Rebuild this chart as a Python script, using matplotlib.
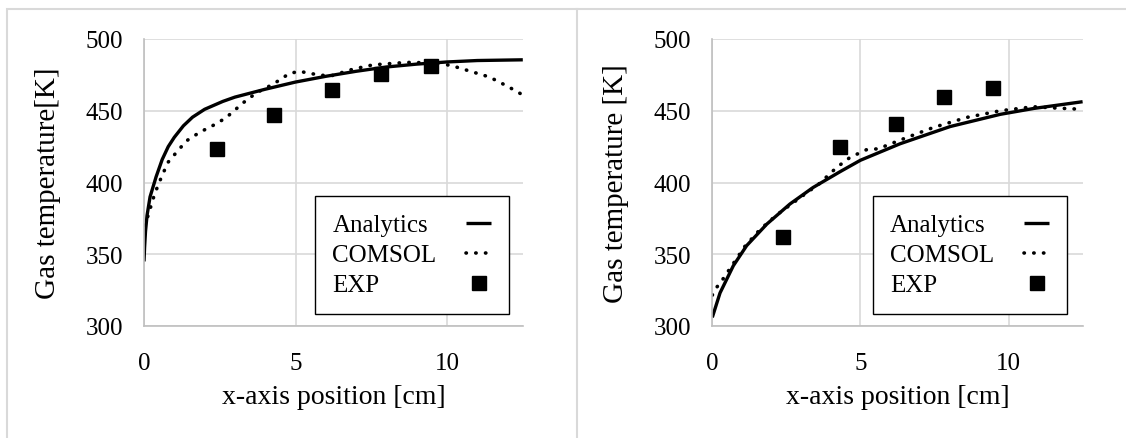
import matplotlib.pyplot as plt
import matplotlib.patches as patches
import numpy as np

plt.rcParams['font.family'] = ['Liberation Serif', 'DejaVu Serif']

# left panel
x_an_l = [0, 0.02, 0.05, 0.1, 0.2, 0.4, 0.6, 0.8, 1.0, 1.3, 1.6, 2.0, 2.6, 3.0, 4.0, 5.0, 6.0, 7.0, 8.0, 9.0, 10.0, 11.0, 12.5]
t_an_l = [345, 355, 366, 377, 390, 404, 416, 425, 431.5, 439.5, 445.5, 451, 456.5, 459.5, 465, 470, 474, 477.5, 480.5, 482.5, 484, 485, 485.5]
x_cs_l = [0, 0.12, 0.35, 0.57, 0.79, 1.07, 1.4, 1.84, 2.3, 2.7, 3.27, 3.71, 4.26, 4.8, 5.14, 5.47, 6.13, 6.35, 6.9, 7.56, 8.66, 9.76, 10.3, 11.4, 12.0, 12.5]
t_cs_l = [370, 376, 392, 403.5, 414, 421, 429, 435, 440, 445, 455.5, 462.5, 468.5, 476, 477.5, 476, 474, 475.5, 479, 482, 483.7, 483.3, 480.5, 473.5, 467, 461]
x_exp_l = [2.4, 4.28, 6.19, 7.83, 9.46]
t_exp_l = [423.3, 447, 464.7, 475.6, 481.4]

# right panel
x_an_r = [0, 0.26, 0.71, 1.16, 1.84, 2.62, 3.4, 4.31, 5.0, 6.34, 8.03, 9.72, 10.85, 12.5]
t_an_r = [306, 323, 342, 356, 371, 385, 396.5, 407.5, 415.5, 427, 439, 447.5, 451.6, 456.3]
x_cs_r = [0, 0.15, 0.32, 0.66, 1.1, 1.6, 2.18, 3.0, 3.6, 4.2, 4.65, 5.2, 5.6, 6.57, 7.47, 8.6, 9.72, 10.84, 11.5, 12.5]
t_cs_r = [321.5, 327, 331.5, 342, 355.5, 367, 377.5, 390, 399, 410.5, 417.5, 422.8, 423.5, 431.4, 438.4, 445.4, 450, 452.8, 452, 451]
x_exp_r = [2.4, 4.31, 6.2, 7.83, 9.47]
t_exp_r = [361.7, 424.9, 440.7, 459.5, 465.8]

xticks = [0, 5, 10]
yticks = [300, 350, 400, 450, 500]
fs = 18      # ticks + legend
fs_lab = 20  # axis titles

fig = plt.figure(figsize=(11.26, 4.39), dpi=100)

# light grey frame lines around the two panels
W, H = 1126, 439
fc = '#d9d9d9'
fig.add_artist(patches.Rectangle((7 / W, -0.1), (W + 10) / W, (H - 10) / H + 0.1, transform=fig.transFigure,
                                 fill=False, edgecolor=fc, lw=1.5))
fig.add_artist(plt.Line2D([576.5 / W, 576.5 / W], [0, (H - 10) / H], transform=fig.transFigure, color=fc, lw=1.5))


def panel(ax, xa, ta, xc, tc, xe, te, ylab, leg_l, ylab_x):
    ax.plot(xa, ta, color='black', lw=2.4, label='Analytics', solid_capstyle='butt')
    ax.plot(xc, tc, color='black', lw=2.6, linestyle=(0, (0.1, 2.6)), dash_capstyle='round', label='COMSOL')
    ax.plot(xe, te, linestyle='none', marker='s', ms=10, color='black', label='EXP')
    ax.set_xlim(0, 12.5)
    ax.set_ylim(300, 500)
    ax.set_xticks(xticks)
    ax.set_yticks(yticks)
    ax.grid(True, color='#d9d9d9', lw=1.2)
    ax.set_axisbelow(True)
    for s in ['top', 'right']:
        ax.spines[s].set_visible(False)
    for s in ['left', 'bottom']:
        ax.spines[s].set_color('#bfbfbf')
        ax.spines[s].set_linewidth(1.2)
    ax.tick_params(length=0, labelsize=fs, pad=15)
    ax.tick_params(axis='x', pad=19)
    ax.set_xlabel('x-axis position [cm]', fontsize=fs_lab, labelpad=7)
    ax.set_ylabel(ylab, fontsize=21)
    ax.yaxis.set_label_coords(ylab_x, 0.5)
    leg = ax.legend(loc='lower left', bbox_to_anchor=(leg_l, 0.042), borderaxespad=0, markerfirst=False,
                    fontsize=fs, fancybox=False, framealpha=1, edgecolor='black', handlelength=1.0,
                    handletextpad=1.2, labelspacing=0.3, borderpad=0.7)
    leg.get_frame().set_linewidth(1.0)
    return leg


def left_align(leg):
    # text left, handle right: widen the gap of shorter labels
    r = fig.canvas.get_renderer()
    texts = leg.get_texts()
    w = [t.get_window_extent(r).width for t in texts]
    rows = leg._legend_handle_box.get_children()[0].get_children()
    for row, wi in zip(rows, w):
        row.sep = row.sep + (max(w) - wi) * 72 / fig.dpi


ax1 = fig.add_axes([144 / W, 112 / H, 378.8 / W, 287 / H])
leg1 = panel(ax1, x_an_l, t_an_l, x_cs_l, t_cs_l, x_exp_l, t_exp_l, 'Gas temperature[K]', 0.451, -0.219)

ax2 = fig.add_axes([712.3 / W, 112 / H, 370.3 / W, 287 / H])
leg2 = panel(ax2, x_an_r, t_an_r, x_cs_r, t_cs_r, x_exp_r, t_exp_r, 'Gas temperature [K]', 0.433, -0.224)

fig.canvas.draw()
left_align(leg1)
left_align(leg2)

fig.savefig('out.png', dpi=100)
